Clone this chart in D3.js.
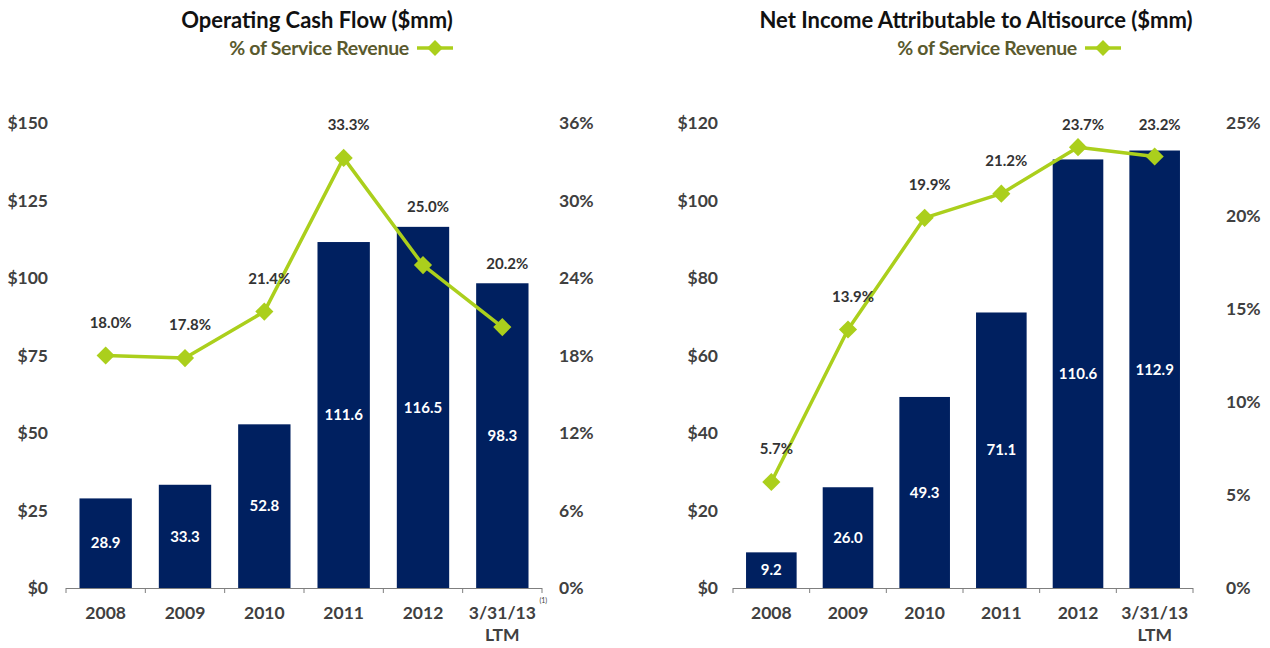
<!DOCTYPE html>
<html>
<head>
<meta charset="utf-8">
<script src="https://cdn.jsdelivr.net/npm/d3@7"></script>
<style>
  body { margin: 0; background: #fff; }
  svg { display: block; font-family: Lato, "Open Sans", sans-serif; }
</style>
</head>
<body>
<svg class="chart"></svg>
<script>
var categories = ["2008", "2009", "2010", "2011", "2012", "3/31/13"];

var cashFlow = [28.9, 33.3, 52.8, 111.6, 116.5, 98.3];
var cashFlowPct = [18.0, 17.8, 21.4, 33.3, 25.0, 20.2];
var cashTicks = [0, 25, 50, 75, 100, 125, 150];
var cashPctTicks = [0, 6, 12, 18, 24, 30, 36];

var netIncome = [9.2, 26.0, 49.3, 71.1, 110.6, 112.9];
var netIncomePct = [5.7, 13.9, 19.9, 21.2, 23.7, 23.2];
var incomeTicks = [0, 20, 40, 60, 80, 100, 120];
var incomePctTicks = [0, 5, 10, 15, 20, 25];

var legendLabel = "% of Service Revenue";

function show() {
    'use strict';
    var navy = "#002060",
        lime = "#abcf1c",
        axisText = "#404040";

    var svg = d3.select(".chart")
        .attr("width", 1270)
        .attr("height", 648);

    drawChart({
        title: "Operating Cash Flow ($mm)",
        titleX: 317, legendX: 335,
        x0: 66, x1: 542,
        leftLabelX: 48, rightLabelX: 559,
        values: cashFlow, pct: cashFlowPct,
        ticks: cashTicks, pctTicks: cashPctTicks,
        footnote: true
    });

    drawChart({
        title: "Net Income Attributable to Altisource ($mm)",
        titleX: 976, legendX: 1003,
        x0: 733, x1: 1193,
        leftLabelX: 718, rightLabelX: 1226,
        values: netIncome, pct: netIncomePct,
        ticks: incomeTicks, pctTicks: incomePctTicks,
        footnote: false
    });

    function drawChart(c) {
        var top = 123, bottom = 588;
        var g = svg.append("g");

        var x = d3.scaleBand()
            .domain(categories)
            .range([c.x0, c.x1])
            .paddingInner(0.34)
            .paddingOuter(0.17);

        var y = d3.scaleLinear()
            .domain([0, d3.max(c.ticks)])
            .range([bottom, top]);

        var yPct = d3.scaleLinear()
            .domain([0, d3.max(c.pctTicks)])
            .range([bottom, top]);

        // titles
        g.append("text")
            .attr("x", c.titleX).attr("y", 28)
            .attr("text-anchor", "middle")
            .style("font-size", "22px").style("font-weight", 700)
            .style("fill", "#111")
            .text(c.title);

        var legend = g.append("g")
            .attr("transform", "translate(" + c.legendX + ",48)");
        legend.append("text")
            .attr("x", 74).attr("y", 7)
            .attr("text-anchor", "end")
            .style("font-size", "19.5px").style("font-weight", 700)
            .style("letter-spacing", "-0.3px")
            .style("fill", "#5a5a2e")
            .text(legendLabel);
        legend.append("line")
            .attr("x1", 82).attr("x2", 118)
            .style("stroke", lime).style("stroke-width", 3.5);
        legend.append("path")
            .attr("d", d3.symbol().type(d3.symbolDiamond2).size(160))
            .attr("transform", "translate(100,0)")
            .style("fill", lime);

        // left & right value labels
        g.selectAll(".ly").data(c.ticks).enter().append("text")
            .attr("x", c.leftLabelX)
            .attr("y", function(d) { return y(d); })
            .attr("dy", "0.35em")
            .attr("text-anchor", "end")
            .style("font-size", "17.5px").style("font-weight", 700)
            .style("fill", axisText)
            .text(function(d) { return "$" + d; });

        g.selectAll(".ry").data(c.pctTicks).enter().append("text")
            .attr("x", c.rightLabelX)
            .attr("y", function(d) { return yPct(d); })
            .attr("dy", "0.35em")
            .style("font-size", "17.5px").style("font-weight", 700)
            .style("fill", axisText)
            .text(function(d) { return d + "%"; });

        // bars
        g.selectAll(".bar").data(c.values).enter().append("rect")
            .attr("x", function(d, i) { return x(categories[i]); })
            .attr("y", function(d) { return y(d); })
            .attr("width", x.bandwidth())
            .attr("height", function(d) { return bottom - y(d); })
            .style("fill", navy);

        g.selectAll(".barlabel").data(c.values).enter().append("text")
            .attr("x", function(d, i) { return x(categories[i]) + x.bandwidth() / 2; })
            .attr("y", function(d) { return (y(d) + bottom) / 2; })
            .attr("dy", "0.35em")
            .attr("text-anchor", "middle")
            .style("font-size", "15px").style("font-weight", 700)
            .style("fill", "#fff")
            .text(function(d) { return d.toFixed(1); });

        // category axis
        var step = x.step();
        g.append("line")
            .attr("x1", c.x0).attr("x2", c.x1)
            .attr("y1", bottom + 0.5).attr("y2", bottom + 0.5)
            .style("stroke", "#7f7f7f");
        g.selectAll(".tick").data(d3.range(categories.length + 1)).enter().append("line")
            .attr("x1", function(i) { return c.x0 + i * step; })
            .attr("x2", function(i) { return c.x0 + i * step; })
            .attr("y1", bottom).attr("y2", bottom + 5)
            .style("stroke", "#7f7f7f");

        g.selectAll(".cat").data(categories).enter().append("text")
            .attr("x", function(d) { return x(d) + x.bandwidth() / 2; })
            .attr("y", 619)
            .attr("text-anchor", "middle")
            .style("font-size", "17.5px").style("font-weight", 700)
            .style("fill", axisText)
            .text(function(d) { return d; });
        g.append("text")
            .attr("x", x(categories[5]) + x.bandwidth() / 2)
            .attr("y", 641)
            .attr("text-anchor", "middle")
            .style("font-size", "17.5px").style("font-weight", 700)
            .style("fill", axisText)
            .text("LTM");
        if (c.footnote) {
            g.append("text")
                .attr("x", x(categories[5]) + x.bandwidth() / 2 + 41)
                .attr("y", 603)
                .attr("text-anchor", "middle")
                .style("font-size", "7px")
                .style("fill", axisText)
                .text("(1)");
        }

        // % line
        var line = d3.line()
            .x(function(d, i) { return x(categories[i]) + x.bandwidth() / 2; })
            .y(function(d) { return yPct(d); });

        g.append("path")
            .datum(c.pct)
            .attr("d", line)
            .style("fill", "none")
            .style("stroke", lime)
            .style("stroke-width", 3.5)
            .style("stroke-linejoin", "round");

        g.selectAll(".pt").data(c.pct).enter().append("path")
            .attr("d", d3.symbol().type(d3.symbolDiamond2).size(210))
            .attr("transform", function(d, i) {
                return "translate(" + (x(categories[i]) + x.bandwidth() / 2) + "," + yPct(d) + ")";
            })
            .style("fill", lime);

        // labels sit above the point, or above the bar when the bar is in the way
        g.selectAll(".pl").data(c.pct).enter().append("text")
            .attr("x", function(d, i) { return x(categories[i]) + x.bandwidth() / 2 + 5; })
            .attr("y", function(d, i) {
                return Math.max(Math.min(yPct(d) - 33, y(c.values[i]) - 20), 125);
            })
            .attr("dy", "0.35em")
            .attr("text-anchor", "middle")
            .style("font-size", "15px").style("font-weight", 700)
            .style("fill", "#333")
            .text(function(d) { return d.toFixed(1) + "%"; });
    }
}
show();
</script>
</body>
</html>
